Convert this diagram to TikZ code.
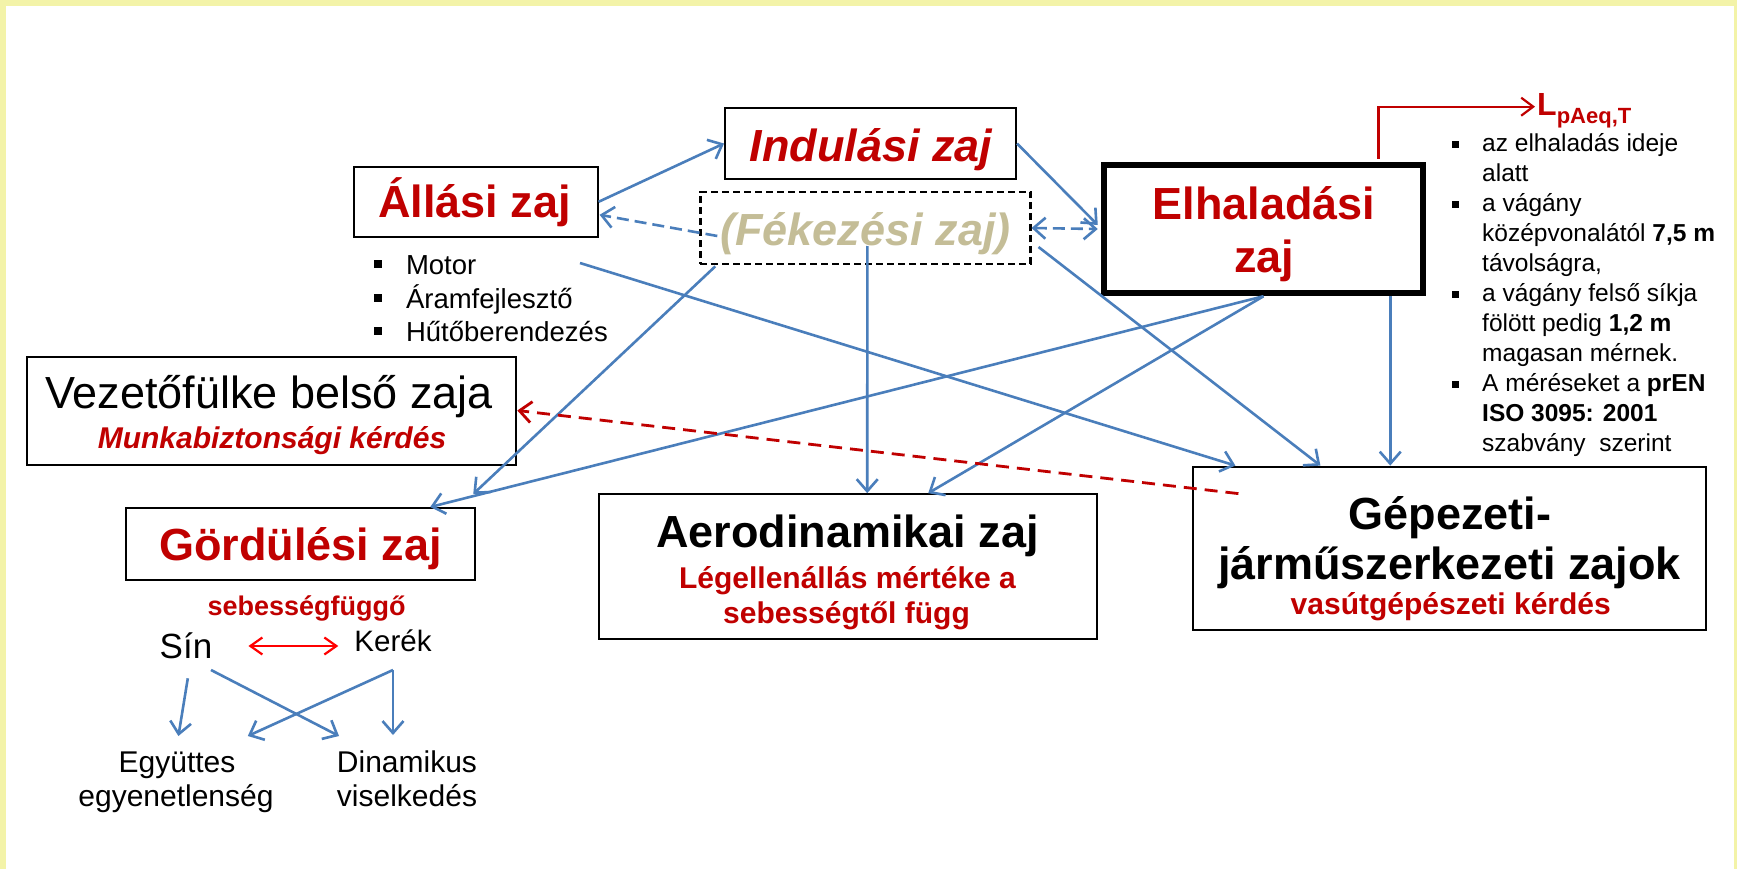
\documentclass[tikz,border=0pt]{standalone}
\usepackage{fontspec}
\setmainfont{Liberation Sans}
\usetikzlibrary{arrows.meta,calc}
\definecolor{dred}{RGB}{192,0,0}
\definecolor{ablue}{RGB}{74,126,187}
\definecolor{beige}{RGB}{196,189,151}
\definecolor{bordery}{RGB}{243,243,168}
\definecolor{bred}{RGB}{255,0,0}
\begin{document}
\begin{tikzpicture}[x=1pt,y=-1pt,
  box/.style={draw=black,line width=2pt,inner sep=0pt,rectangle},
  txt/.style={inner sep=0pt,anchor=base},
  bigb/.style={font=\fontsize{45}{54}\selectfont\bfseries},
  bigbi/.style={font=\fontsize{45}{54}\selectfont\bfseries\itshape},
  midb/.style={font=\fontsize{30}{36}\selectfont\bfseries},
  rt/.style={anchor=base west,inner sep=0pt,font=\fontsize{24.5}{29}\selectfont},
  lt/.style={anchor=base west,inner sep=0pt,font=\fontsize{27.5}{33}\selectfont},
  conn/.style={draw=ablue,line width=2.6pt,-{Straight Barb[length=12pt,width=21pt]}},
  dconn/.style={conn,dash pattern=on 12pt off 6pt},
  rconn/.style={draw=dred,line width=2.8pt,dash pattern=on 13pt off 8pt,-{Straight Barb[length=12pt,width=21pt]}},
  redln/.style={draw=dred,line width=2.2pt,-{Straight Barb[length=12pt,width=18pt]}},
  dbl/.style={draw=bred,line width=2.2pt,{Straight Barb[length=12pt,width=17pt]}-{Straight Barb[length=12pt,width=17pt]}}
]
\useasboundingbox (0,0) rectangle (1737,869);
\fill[white] (0,0) rectangle (1737,869);
\fill[bordery] (0,0) rectangle (1737,6);
\fill[bordery] (0,0) rectangle (6,869);
\fill[bordery] (1734,0) rectangle (1737,869);

% boxes
\node[box,minimum width=291pt,minimum height=71pt] (ind) at (870.5,143.5) {};
\node[box,minimum width=243.6pt,minimum height=70.5pt] (all) at (475.8,201.8) {};
\node[box,dash pattern=on 7pt off 4pt,line width=2.2pt,minimum width=330pt,minimum height=72.5pt] (fek) at (865.4,228) {};
\node[box,line width=6.5pt,minimum width=319pt,minimum height=128pt] (elh) at (1263.5,229) {};
\node[box,minimum width=489pt,minimum height=108pt] (vez) at (271.8,410.5) {};
\node[box,minimum width=349.5pt,minimum height=72pt] (gor) at (300.5,544) {};
\node[box,minimum width=497.6pt,minimum height=145.3pt] (aero) at (848.2,566.8) {};
\node[box,minimum width=513pt,minimum height=163.4pt] (gep) at (1449.9,548.3) {};

% box texts
\node[txt,bigbi,text=dred] (indt) at (871,161.5) {Indulási zaj};
\node[txt,bigb,text=dred] (allt) at (474.5,218) {Állási zaj};
\node[txt,bigbi,text=beige] (fekt) at (865.5,245) {(Fékezési zaj)};
\node[txt,bigb,text=dred] (elht1) at (1264,220) {Elhaladási};
\node[txt,bigb,text=dred] (elht2) at (1264,272) {zaj};
\node[txt,font=\fontsize{45}{54}\selectfont] (vezt1) at (269,408) {Vezetőfülke belső zaja};
\node[txt,font=\fontsize{30}{36}\selectfont\bfseries\itshape,text=dred] (vezt2) at (272,448) {Munkabiztonsági kérdés};
\node[txt,bigb,text=dred] (gort) at (300.6,560) {Gördülési zaj};
\node[txt,bigb] (aerot1) at (847.5,547.5) {Aerodinamikai zaj};
\node[txt,midb,text=dred] (aerot2) at (847.5,588.3) {Légellenállás mértéke a};
\node[txt,midb,text=dred] (aerot3) at (846.5,623) {sebességtől függ};
\node[txt,bigb] (gept1) at (1450,529) {Gépezeti-};
\node[txt,bigb] (gept2) at (1449.6,579) {járműszerkezeti zajok};
\node[txt,midb,text=dred] (gept3) at (1450.8,614) {vasútgépészeti kérdés};

% Allasi bullets
\node[lt] (mot) at (405.8,274) {Motor};
\node[lt] (aram) at (405.8,308) {Áramfejlesztő};
\node[lt] (hut) at (405.8,341) {Hűtőberendezés};
\foreach \yy in {274,308,341} \fill (373.5,\yy-14) rectangle (381.5,\yy-6);

% rolling noise part
\node[txt,font=\fontsize{27}{32}\selectfont\bfseries,text=dred] (seb) at (306.6,615) {sebességfüggő};
\node[txt,font=\fontsize{35}{42}\selectfont] (sin) at (186,658) {Sín};
\node[txt,font=\fontsize{29.5}{35}\selectfont] (ker) at (393,651.7) {Kerék};
\node[txt,font=\fontsize{30}{36}\selectfont] (egy1) at (177,772.7) {Együttes};
\node[txt,font=\fontsize{30}{36}\selectfont] (egy2) at (176,806.7) {egyenetlenség};
\node[txt,font=\fontsize{30}{36}\selectfont] (din1) at (407,772.5) {Dinamikus};
\node[txt,font=\fontsize{30}{36}\selectfont] (din2) at (407,806.5) {viselkedés};

% right text
\node[rt] (r0) at (1482,151.5) {az elhaladás ideje};
\node[rt] (r1) at (1482,181.5) {alatt};
\node[rt] (r2) at (1482,211.5) {a vágány};
\node[rt] (r3) at (1482,241.5) {középvonalától\ \textbf{7,5 m}};
\node[rt] (r4) at (1482,271.5) {távolságra,};
\node[rt] (r5) at (1482,301.5) {a vágány\ felső\ síkja};
\node[rt] (r6) at (1482,331.5) {fölött pedig \textbf{1,2 m}};
\node[rt] (r7) at (1482,361.5) {magasan\ mérnek.};
\node[rt] (r8) at (1482,391.5) {A méréseket a \textbf{prEN}};
\node[rt] (r9) at (1482,421.5) {\textbf{ISO 3095: 2001}};
\node[rt] (r10) at (1482,451.5) {szabvány\ \ szerint};
\foreach \yy in {151.5,211.5,301.5,391.5} \fill (1451.5,\yy-10.2) rectangle (1458.5,\yy-3.2);

% LpAeq,T
\node[anchor=base west,inner sep=0pt,text=dred,font=\bfseries\fontsize{32}{32}\selectfont] (lp) at (1537,116) {L\raisebox{-8pt}{\fontsize{22}{22}\selectfont pAeq,T}};
\coordinate (lptip) at (1535,106.7);
\draw[redln] ($(elh.north)+(115,-3)$) |- (lptip);

% connectors
\draw[conn] (all.east) -- (ind.west);
\draw[dconn] ($(fek.west)+(18,8)$) -- ($(all.east)+(1,13)$);
\draw[dconn,{Straight Barb[length=12pt,width=21pt]}-{Straight Barb[length=12pt,width=21pt]}] (fek.east) -- ($(elh.west)+(-3,0)$);
\draw[conn] (ind.east) -- ($(elh.west)+(-3,-4)$);
\coordinate (mstart) at (580,263);
\draw[conn] (mstart) -- ($(gep.north west)+(43,0)$);
\draw[conn] ($(fek.south west)+(16,1)$) -- ($(gor.north east)+(-3,-13)$);
\draw[conn] (elh.south) -- ($(gor.north east)+(-46,0)$);
\draw[conn] ($(fek.center)+(2,18)$) -- ($(aero.north)+(19,0)$);
\draw[conn] (elh.south) -- ($(aero.north)+(80,0)$);
\draw[conn] ($(fek.east)+(7,19)$) -- ($(gep.north west)+(128,0)$);
\coordinate (e11) at ($(elh.south east)+(-36,0)$);
\draw[conn] (e11) -- (e11 |- gep.north);
\draw[rconn] ($(gep.north west)+(46,28)$) -- (vez.east);

% rolling arrows
\draw[dbl] ($(sin.base east)+(36,-12)$) -- ($(ker.base west)+(-16,-5.7)$);
\draw[conn] ($(sin.base)+(1.8,20.3)$) -- ($(egy1.base)+(1.4,-36.7)$);
\draw[conn] ($(sin.base)+(25,12)$) -- ($(din1.base)+(-68,-36.5)$);
\coordinate (kbot) at ($(ker.base)+(0,18.3)$);
\draw[conn] (kbot) -- ($(egy1.base)+(70.8,-36.7)$);
\draw[conn] (kbot) -- ($(din1.base)+(-14,-37.5)$);
\end{tikzpicture}
\end{document}
